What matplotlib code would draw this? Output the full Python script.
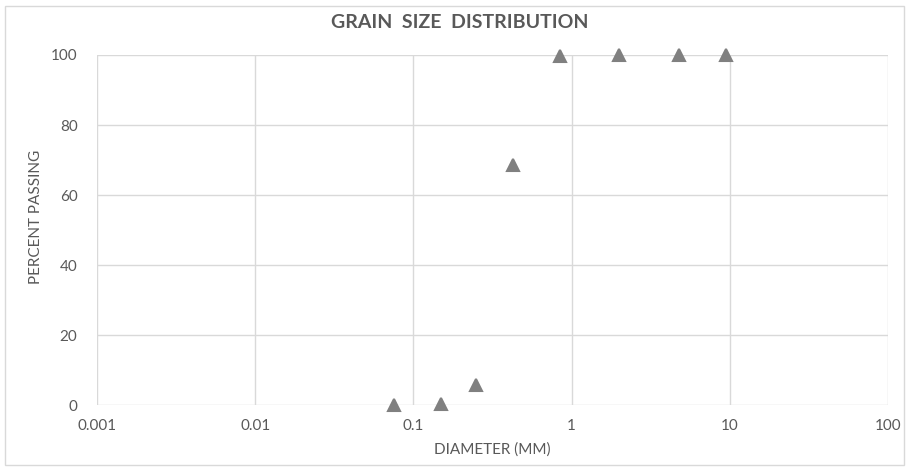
import numpy as np
import matplotlib.pyplot as plt
from matplotlib.patches import Rectangle

plt.rcParams['font.family'] = ['Lato', 'DejaVu Sans']

# sieve sizes (mm) and percent passing
diameter = [0.075, 0.15, 0.25, 0.425, 0.85, 2.0, 4.75, 9.5]
passing = [0.0, 0.4, 5.8, 68.7, 99.6, 100.0, 100.0, 100.0]

x_ticks = [0.001, 0.01, 0.1, 1, 10, 100]
x_labels = ["0.001", "0.01", "0.1", "1", "10", "100"]
y_ticks = [0, 20, 40, 60, 80, 100]

grid_c = "#d9d9d9"
text_c = "#595959"

fig = plt.figure(figsize=(9.09, 4.70), dpi=100)
fig.patches.append(Rectangle((0.006, 0.01), 0.988, 0.978, transform=fig.transFigure,
                             fill=False, edgecolor=grid_c, linewidth=1))
ax = fig.add_axes([0.1067, 0.138, 0.8703, 0.745])

ax.plot(diameter, passing, linestyle="none", marker="^", markersize=9,
        color="#808080", markeredgecolor="#808080", markeredgewidth=1.5,
        clip_on=False, zorder=3)
for l in ax.lines:
    l.set_solid_joinstyle("round")

ax.set_xscale("log")
ax.set_xlim(0.001, 100)
ax.set_ylim(0, 100)
ax.set_xticks(x_ticks)
ax.set_xticklabels(x_labels)
ax.minorticks_off()
ax.set_yticks(y_ticks)
ax.grid(True, color=grid_c, linewidth=1)
ax.set_axisbelow(True)
for s in ax.spines.values():
    s.set_visible(False)
ax.tick_params(length=0, labelsize=11, labelcolor=text_c, pad=10)
ax.tick_params(axis="y", pad=14)

ax.set_xlabel("DIAMETER (MM)", fontsize=11, color=text_c, labelpad=7)
ax.set_ylabel("PERCENT PASSING", fontsize=11, color=text_c)
ax.yaxis.set_label_coords(-0.068, 0.537)
fig.text(0.506, 0.952, "GRAIN  SIZE  DISTRIBUTION", ha="center", va="center",
         fontsize=14, fontweight="bold", color=text_c)

fig.savefig("out.png", dpi=100)
